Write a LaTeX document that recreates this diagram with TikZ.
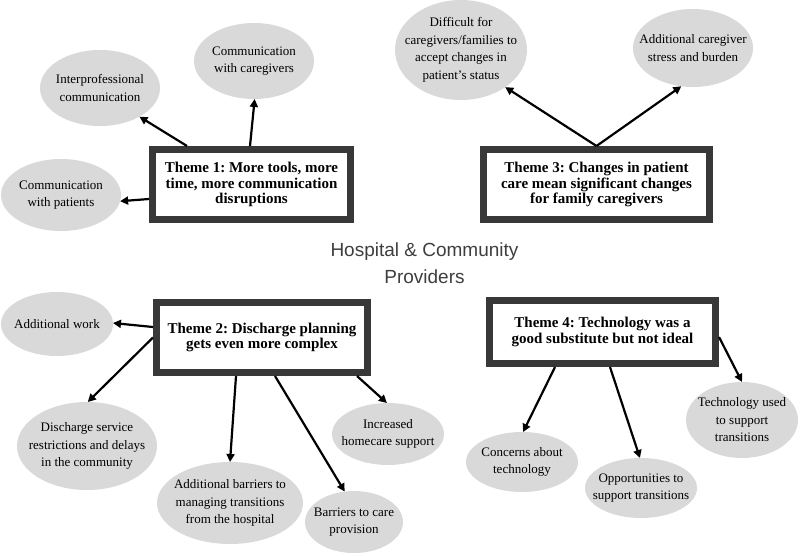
\documentclass[tikz,border=0pt]{standalone}
\usepackage{fontspec}
\setmainfont{Liberation Serif}
\setsansfont{Liberation Sans}
\usetikzlibrary{shapes.geometric,arrows.meta,calc}
\definecolor{ellgray}{HTML}{D9D9D9}
\definecolor{boxgray}{HTML}{383838}
\definecolor{midtext}{HTML}{3E3E3E}
\frenchspacing
\tikzset{
  bubble/.style={ellipse, fill=ellgray, draw=none, inner sep=0pt, outer sep=0pt},
  bubbletext/.style={align=center, inner sep=0pt, font=\fontsize{13}{17.5}\selectfont},
  themebox/.style={rectangle, draw=boxgray, line width=7pt, fill=white, outer sep=3.5pt,
     align=center, inner sep=2pt, font=\bfseries\fontsize{15}{15.5}\selectfont},
  conn/.style={line width=2.2pt, -{Triangle[length=8pt,width=8pt]}}
}
\begin{document}
\begin{tikzpicture}[x=1pt,y=-1pt]
\useasboundingbox (0,0) rectangle (800,555);

% ellipses
\node[bubble, minimum width=120pt, minimum height=76pt] (eip) at (100,88) {};
\node[bubbletext] (eipt) at (eip) {Interprofessional\\communication};
\node[bubble, minimum width=120pt, minimum height=76pt] (ecg) at (254,61) {};
\node[bubbletext] (ecgt) at (ecg) {Communication\\with caregivers};
\node[bubble, minimum width=120pt, minimum height=72pt] (epa) at (61,195) {};
\node[bubbletext] (epat) at (epa) {Communication\\with patients};

\node[bubble, minimum width=132pt, minimum height=100pt] (edf) at (461,50) {};
\node[bubbletext] (edft) at (edf) {Difficult for\\caregivers/families to\\accept changes in\\patient's status};
\node[bubble, minimum width=120pt, minimum height=78pt] (est) at (693,48) {};
\node[bubbletext] (estt) at (est) {Additional caregiver\\stress and burden};

\node[bubble, minimum width=112pt, minimum height=64pt] (eaw) at (57,324) {};
\node[bubbletext] (eawt) at (eaw) {Additional work};
\node[bubble, minimum width=140pt, minimum height=88pt] (eds) at (87,446) {};
\node[bubbletext] (edst) at (eds) {Discharge service\\restrictions and delays\\in the community};
\node[bubble, minimum width=146pt, minimum height=82pt] (eab) at (230,503) {};
\node[bubbletext] (eabt) at (eab) {Additional barriers to\\managing transitions\\from the hospital};
\node[bubble, minimum width=98pt, minimum height=62pt] (ebc) at (354,522) {};
\node[bubbletext] (ebct) at (ebc) {Barriers to care\\provision};
\node[bubble, minimum width=112pt, minimum height=62pt] (ehc) at (388,434) {};
\node[bubbletext] (ehct) at (ehc) {Increased\\homecare support};

\node[bubble, minimum width=112pt, minimum height=60pt] (ect) at (522,462) {};
\node[bubbletext] (ectt) at (ect) {Concerns about\\technology};
\node[bubble, minimum width=112pt, minimum height=60pt] (eop) at (641,488) {};
\node[bubbletext] (eopt) at (eop) {Opportunities to\\support transitions};
\node[bubble, minimum width=112pt, minimum height=76pt] (etu) at (742,420) {};
\node[bubbletext] (etut) at (etu) {Technology used\\to support\\transitions};

% theme boxes
\node[themebox, minimum width=198pt, minimum height=70pt] (t1) at (251.5,184.5)
  {Theme 1: More tools, more\\time, more communication\\disruptions};
\node[themebox, minimum width=226pt, minimum height=70pt] (t3) at (596.5,184.5)
  {Theme 3: Changes in patient\\care mean significant changes\\for family caregivers};
\node[themebox, minimum width=211pt, minimum height=70pt] (t2) at (262,337.5)
  {Theme 2: Discharge planning\\gets even more complex};
\node[themebox, minimum width=226pt, minimum height=63pt] (t4) at (602.5,332)
  {Theme 4: Technology was a\\good substitute but not ideal};

% centre label
\node[align=center, text=midtext, inner sep=0pt, font=\sffamily\fontsize{19}{27}\selectfont]
  (hc) at (424.5,263) {Hospital \& Community\\Providers};

% connectors
\draw[conn] ([xshift=-64.5pt]t1.north) -- (eip.-36);
\draw[conn] ([xshift=-1.5pt]t1.north) -- (ecg.-89);
\draw[conn] ([yshift=-14.5pt]t1.west) -- (epa.-6);

\draw[conn] (t3.north) -- (edf.-40);
\draw[conn] (t3.north) -- (est.-107);

\draw[conn] ([yshift=10.5pt]t2.west) -- (eaw.1);
\draw[conn] (t2.west) -- (eds.89);
\draw[conn] ([xshift=-26pt]t2.south) -- (eab.90);
\draw[conn] ([xshift=13pt]t2.south) -- (ebc.107);
\draw[conn] ([xshift=95pt]t2.south) -- (ehc.92);

\draw[conn] ([xshift=-47.5pt]t4.south) -- (ect.88);
\draw[conn] ([xshift=7.5pt]t4.south) -- (eop.92);
\draw[conn] ([yshift=-5pt]t4.east) -- (etu.90);
\end{tikzpicture}
\end{document}
